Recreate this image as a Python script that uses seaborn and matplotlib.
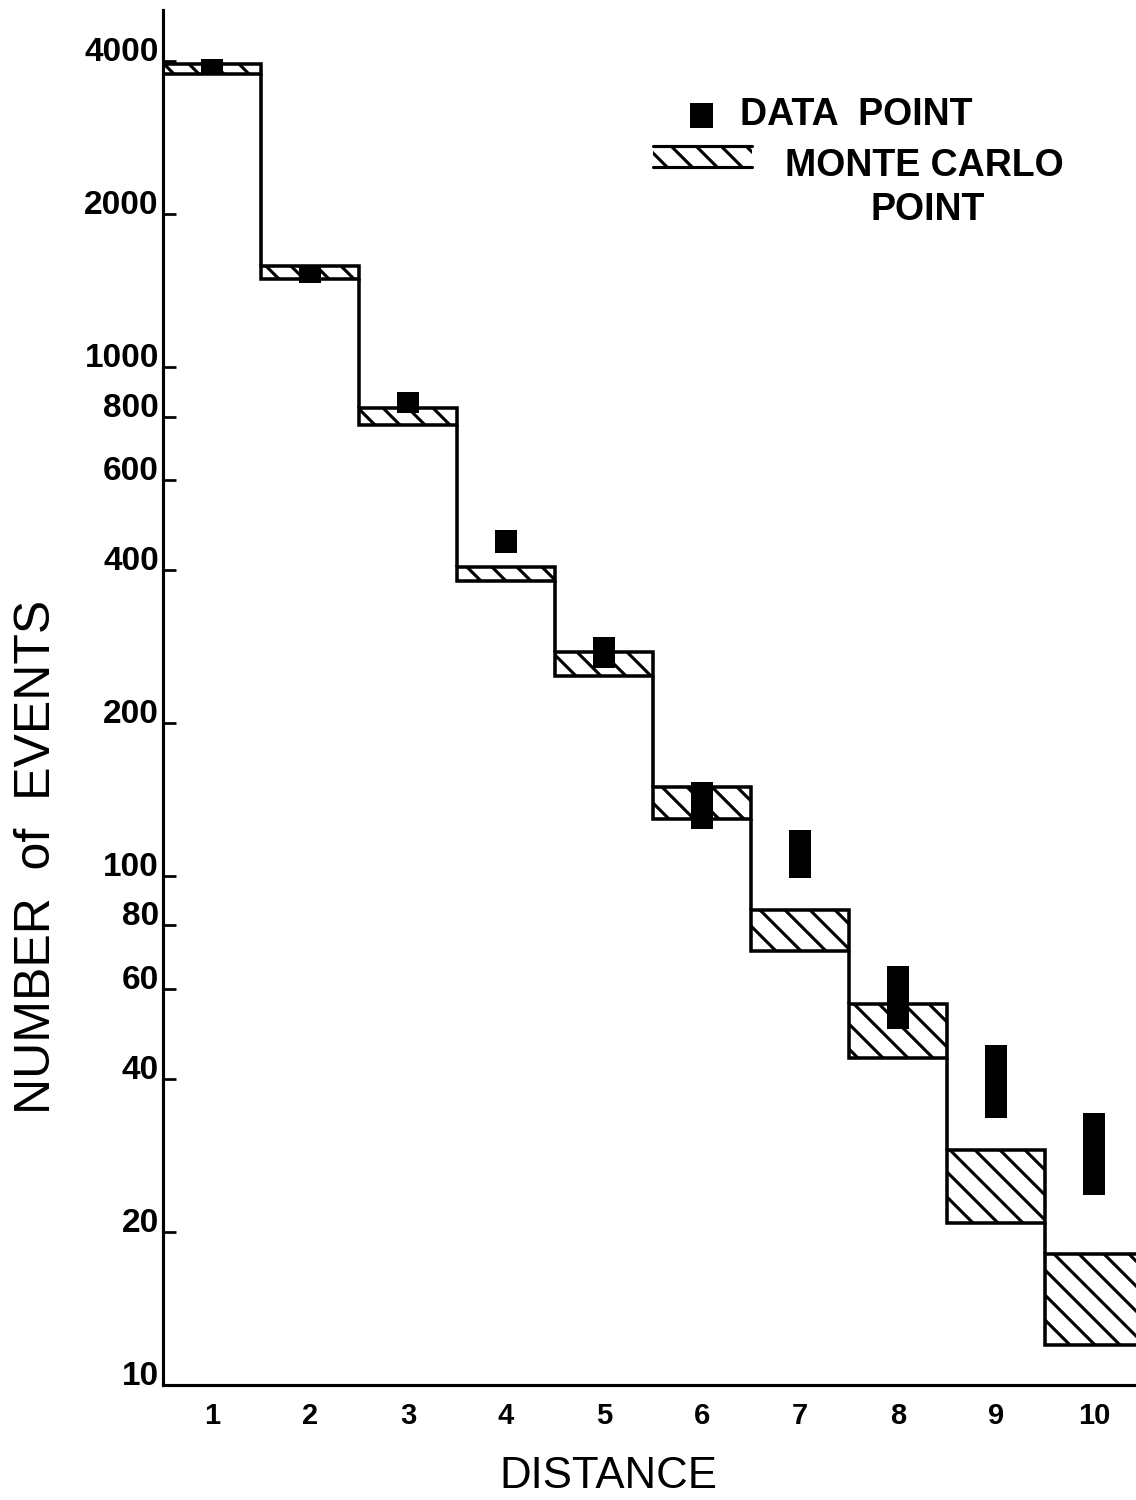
import numpy as np
import matplotlib
matplotlib.use("Agg")
import matplotlib.pyplot as plt
from matplotlib.patches import Rectangle
from matplotlib.ticker import NullLocator
import seaborn as sns

# Event counts per distance bin (log scale)
distance = [1, 2, 3, 4, 5, 6, 7, 8, 9, 10]
mc_low = [3775, 1490, 769, 381, 248, 129.5, 71.2, 44.0, 20.8, 12.0]
mc_high = [3950, 1580, 834, 406, 276, 149.7, 85.7, 56.0, 29.0, 18.1]
data_low = [3790, 1465, 812, 432, 256, 124, 99, 50, 33.5, 23.6]
data_high = [4040, 1585, 893, 480, 295, 153, 123, 66.5, 46.5, 34.2]
y_ticks = [10, 20, 40, 60, 80, 100, 200, 400, 600, 800, 1000, 2000, 4000]

sns.set_theme(style="ticks")
plt.rcParams.update({
    "font.family": ["Liberation Sans", "DejaVu Sans"],
    "text.color": "black",
    "axes.labelcolor": "black",
    "axes.edgecolor": "black",
    "xtick.color": "black",
    "ytick.color": "black",
    "hatch.linewidth": 1.5,
    "hatch.color": "black",
})

fig = plt.figure(figsize=(1136 / 150, 1500 / 150), dpi=150)
fig.patch.set_facecolor("white")
ax = fig.add_axes([0.1435, 0.0767, 0.8565, 0.9166])
ax.set_facecolor("white")

ax.set_yscale("log")
ax.set_ylim(10, 5040)
ax.set_xlim(0.5, 10.43)

# Monte Carlo bands as hatched histogram steps
ax.bar(distance, np.subtract(mc_high, mc_low), bottom=mc_low, width=1.0,
       facecolor="white", edgecolor="black", linewidth=1.7, hatch="\\\\", zorder=2)
edges = np.array(distance[:-1]) + 0.5
ax.vlines(edges, mc_high[1:], mc_low[:-1], colors="black", linewidth=1.7, zorder=2)

# Measured data points with their spread
ax.bar(distance, np.subtract(data_high, data_low), bottom=data_low, width=0.23,
       color="black", linewidth=0, zorder=3)

sns.despine(ax=ax)
for side in ("left", "bottom"):
    ax.spines[side].set_linewidth(1.5)

ax.set_yticks(y_ticks)
ax.set_yticklabels([str(v) for v in y_ticks])
ax.yaxis.set_minor_locator(NullLocator())
ax.tick_params(axis="y", direction="in", length=6, width=1.3, pad=2,
               labelsize=16)
for lab in ax.get_yticklabels():
    lab.set_fontweight("bold")
    lab.set_va("baseline")

ax.set_xticks(distance)
ax.set_xticklabels([str(d) for d in distance])
ax.tick_params(axis="x", length=0, pad=8, labelsize=14)
for lab in ax.get_xticklabels():
    lab.set_fontweight("bold")

ax.set_xlabel("DISTANCE", fontsize=21)
ax.xaxis.set_label_coords(0.458, -0.052)
ax.set_ylabel("NUMBER  of  EVENTS", fontsize=24)
ax.yaxis.set_label_coords(-0.106, 0.384)

# Key
ax.add_patch(Rectangle((0.5416, 0.9142), 0.0237, 0.0182, transform=ax.transAxes,
                       facecolor="black", edgecolor="none", zorder=4))
ax.text(0.593, 0.9236, "DATA  POINT", transform=ax.transAxes, fontsize=18,
        fontweight="bold", ha="left", va="center")
ax.add_patch(Rectangle((0.5036, 0.8858), 0.1018, 0.0153, transform=ax.transAxes,
                       facecolor="white", edgecolor="black", linewidth=0,
                       hatch="\\\\", zorder=4))
ax.plot([0.5036, 0.6054], [0.8858, 0.8858], transform=ax.transAxes,
        color="black", linewidth=1.5, zorder=5)
ax.plot([0.5036, 0.6054], [0.9011, 0.9011], transform=ax.transAxes,
        color="black", linewidth=1.5, zorder=5)
ax.text(0.639, 0.8865, "MONTE CARLO", transform=ax.transAxes, fontsize=18,
        fontweight="bold", ha="left", va="center")
ax.text(0.7857, 0.8545, "POINT", transform=ax.transAxes, fontsize=18,
        fontweight="bold", ha="center", va="center")

fig.savefig("out.png", dpi=150, facecolor="white")
